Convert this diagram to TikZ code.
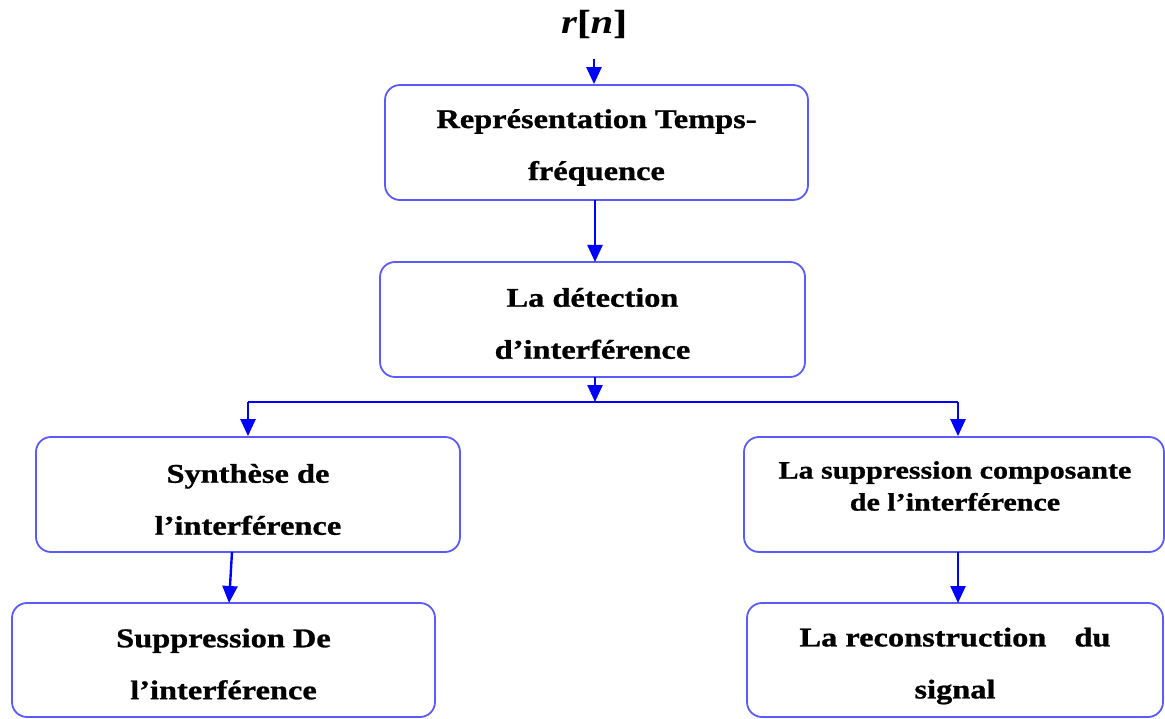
\documentclass[tikz,border=0pt]{standalone}
\usepackage{fontspec}
\usetikzlibrary{arrows.meta}
\newfontfamily\boxfont{Liberation Serif}[FakeStretch=1.2, BoldFeatures={FakeBold=1}]
\definecolor{boxline}{RGB}{90,90,255}
\definecolor{arrowblue}{RGB}{0,0,255}
\tikzset{
  x=1pt, y=-1pt,
  stage/.style={draw=boxline, line width=1.8pt, rounded corners=15pt,
    minimum height=115pt, inner sep=0pt},
  label text/.style={align=center, inner sep=0pt,
    font=\boxfont\bfseries\fontsize{27}{52}\selectfont},
  arr/.style={draw=arrowblue, line width=2.4pt,
    -{Triangle[width=15pt,length=17pt]}},
  link/.style={draw=arrowblue, line width=2.4pt}
}
\begin{document}
\begin{tikzpicture}
\useasboundingbox (0,0) rectangle (1165,719);

% input signal
\node[font=\boxfont\fontsize{34}{38}\selectfont] (rn) at (594,24)
  {\bfseries{\itshape r}[{\itshape n}]};

% processing stages (frames)
\node[stage, minimum width=423pt] (rtf) at (596.5,142.5) {};
\node[stage, minimum width=425pt] (det) at (592.5,319.5) {};
\node[stage, minimum width=424pt] (syn) at (248,494.5) {};
\node[stage, minimum width=420pt] (sup) at (954,494.5) {};
\node[stage, minimum width=423pt, minimum height=114pt] (del) at (223.5,660) {};
\node[stage, minimum width=416pt, minimum height=114pt] (rec) at (955,660) {};

% stage captions (canvas y points up, so a lower caption needs a negative yshift)
\node[label text] (rtf-t) at ([yshift=-5pt]rtf.center) {Représentation Temps-\\fréquence};
\node[label text] (det-t) at ([yshift=-4pt]det.center) {La détection\\d’interférence};
\node[label text] (syn-t) at ([yshift=-5pt]syn.center) {Synthèse de\\l’interférence};
\node[label text, font=\boxfont\bfseries\fontsize{25}{32}\selectfont] (sup-t)
  at (955,486) {La suppression composante\\de l’interférence};
\node[label text] (del-t) at ([yshift=-4pt]del.center) {Suppression De\\l’interférence};
\node[label text] (rec-t) at ([yshift=-6pt]rec.center) {La reconstruction\hspace{20pt} du\\signal};

% branching points
\coordinate (split) at (595,402);
\coordinate (splitL) at (248,402);
\coordinate (splitR) at (958,402);

% connectors
\draw[arr, shorten <=17pt] (rn.south) -- (rn.south |- rtf.north);
\draw[arr] (595,200) -- (595,262);
\draw[arr] (595,377) -- (split);
\draw[link] (splitL) -- (splitR);
\draw[arr] (splitL) -- (splitL |- syn.north);
\draw[arr] (splitR) -- (splitR |- sup.north);
\draw[arr] (232,552) -- (229,603);
\draw[arr] (958,552) -- (958,603);
\end{tikzpicture}
\end{document}
